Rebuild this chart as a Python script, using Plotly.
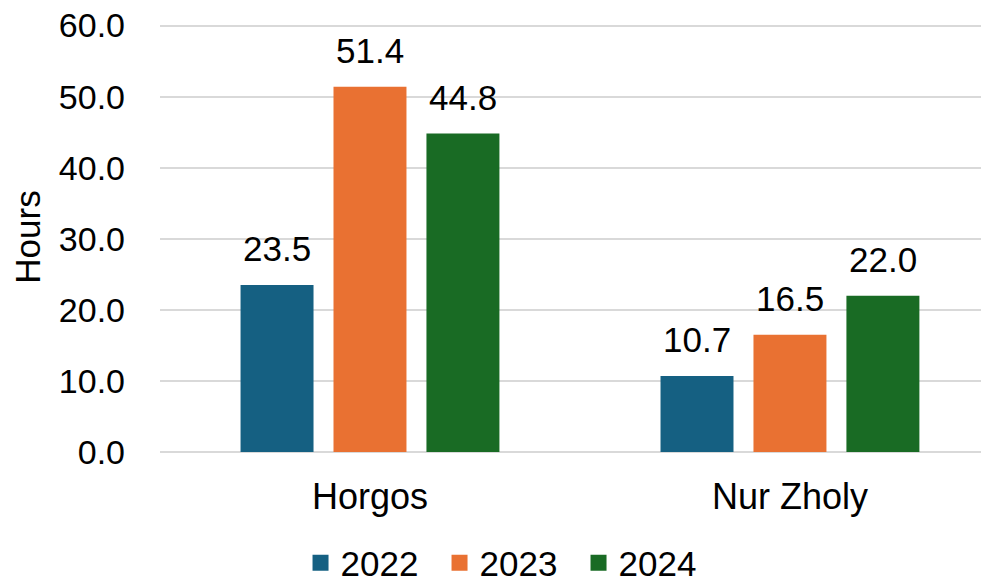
import plotly.graph_objects as go

categories = ["Horgos", "Nur Zholy"]
years = ["2022", "2023", "2024"]
values_2022 = [23.5, 10.7]
values_2023 = [51.4, 16.5]
values_2024 = [44.8, 22.0]
series = [values_2022, values_2023, values_2024]
colors = ["#156082", "#E97132", "#196B24"]
y_ticks = [0, 10, 20, 30, 40, 50, 60]

FONT = "Liberation Sans, Arial, sans-serif"
FS = 35

fig = go.Figure()
for name, vals, col in zip(years, series, colors):
    fig.add_trace(go.Bar(x=categories, y=vals, name=name, marker_color=col,
                         marker_line_width=0, showlegend=False))
    fig.add_trace(go.Scatter(x=[None], y=[None], mode="markers", name=name,
                             marker=dict(symbol="square", size=16, color=col)))

bargap = 0.336
bargroupgap = 0.215
slot = (1 - bargap) / len(years)
annotations = []
for i, vals in enumerate(series):
    off = (i - (len(years) - 1) / 2) * slot
    for j, v in enumerate(vals):
        annotations.append(dict(x=j + off, y=v, xref="x", yref="y",
                                text=f"{v:.1f}", showarrow=False,
                                yanchor="bottom", yshift=15,
                                font=dict(family=FONT, size=FS, color="#000000")))

fig.update_layout(
    width=989, height=583,
    margin=dict(l=152, r=0, t=14, b=139, autoexpand=False),
    paper_bgcolor="white", plot_bgcolor="white",
    barmode="group", bargap=bargap, bargroupgap=bargroupgap,
    font=dict(family=FONT, size=FS, color="#000000"),
    annotations=annotations,
    legend=dict(orientation="h", x=0.417, xanchor="center", y=-0.258, yanchor="middle",
                font=dict(family=FONT, size=FS, color="#000000"),
                entrywidth=94, entrywidthmode="pixels", bgcolor="rgba(0,0,0,0)"),
)
fig.update_xaxes(type="category", range=[-0.5, 1.493], showgrid=False,
                 showline=False, ticks="", ticklabelstandoff=20, automargin=False,
                 tickfont=dict(family=FONT, size=36, color="#000000"))
fig.update_yaxes(range=[0, 60.5], tickvals=y_ticks, tickformat=".1f",
                 showgrid=True, gridcolor="#d9d9d9", gridwidth=1.5,
                 zeroline=True, zerolinecolor="#d9d9d9", zerolinewidth=2,
                 showline=False, ticks="", ticklabelstandoff=34, automargin=True,
                 ticklabeloverflow="allow",
                 title=dict(text="Hours", standoff=18,
                            font=dict(family=FONT, size=FS, color="#000000")),
                 tickfont=dict(family=FONT, size=34, color="#000000"))

fig.write_html("out.html")
